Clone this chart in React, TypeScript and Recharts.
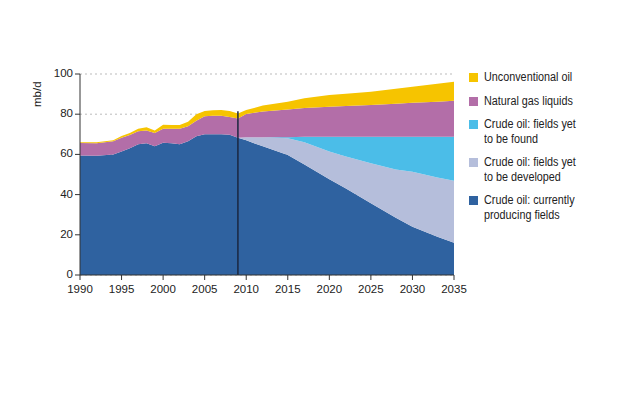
import { AreaChart, Area, XAxis, YAxis, CartesianGrid, ReferenceLine } from 'recharts'

const FONT = "'Liberation Sans', Arial, sans-serif"

const years = [1990, 1992, 1994, 1995, 1996, 1997, 1998, 1999, 2000, 2001, 2002, 2003, 2004, 2005, 2006, 2007, 2008, 2009, 2010, 2012, 2015, 2017, 2020, 2022, 2025, 2028, 2030, 2033, 2035]
const producing = [59.5, 59.3, 60, 61.5, 63, 65, 65.5, 64, 65.8, 65.5, 65, 66.5, 69, 70, 70, 70, 69.8, 68.3, 67, 64, 59.7, 55, 47.6, 43, 35.7, 28.5, 24, 19, 16.1]
const toBeDeveloped = [0, 0, 0, 0, 0, 0, 0, 0, 0, 0, 0, 0, 0, 0, 0, 0, 0, 0, 1.5, 4.5, 8.3, 11, 13.8, 16, 19.9, 24, 27.4, 29.5, 30.8]
const toBeFound = [0, 0, 0, 0, 0, 0, 0, 0, 0, 0, 0, 0, 0, 0, 0, 0, 0, 0, 0, 0, 0.5, 2.8, 7.4, 9.8, 13.2, 16.3, 17.4, 20.3, 21.9]
const ngl = [6.2, 6.3, 6.5, 6.8, 6.6, 6.5, 6.4, 6.7, 6.9, 7.2, 7.7, 7.5, 7.7, 9, 9.2, 9.2, 8.8, 9.5, 11.6, 12.8, 13.9, 14.3, 14.9, 15.3, 15.8, 16.4, 16.9, 17.4, 17.9]
const unconventional = [0.3, 0.4, 0.6, 0.8, 1.1, 1.3, 1.6, 1.2, 2, 1.9, 1.9, 2.3, 3.3, 2.6, 2.8, 2.9, 3, 2.5, 2, 3, 3.8, 4.8, 5.8, 6.1, 6.6, 7.4, 8, 8.9, 9.5]

const xTicks = [1990, 1995, 2000, 2005, 2010, 2015, 2020, 2025, 2030, 2035]
const yTicks = [0, 20, 40, 60, 80, 100]

const series = [
  { key: 'producing', color: '#2f62a0' },
  { key: 'toBeDeveloped', color: '#b5bedb' },
  { key: 'toBeFound', color: '#4bbde8' },
  { key: 'ngl', color: '#b36ea8' },
  { key: 'unconventional', color: '#f6c400' },
]

const legendLines: Record<string, string[]> = {
  unconventional: ['Unconventional oil'],
  ngl: ['Natural gas liquids'],
  toBeFound: ['Crude oil: fields yet', 'to be found'],
  toBeDeveloped: ['Crude oil: fields yet', 'to be developed'],
  producing: ['Crude oil: currently', 'producing fields'],
}

const data = years.map((year, i) => ({
  year,
  producing: producing[i],
  toBeDeveloped: toBeDeveloped[i],
  toBeFound: toBeFound[i],
  ngl: ngl[i],
  unconventional: unconventional[i],
}))

export default function App() {
  const tick = { fontSize: 11.5, fill: '#222', fontFamily: FONT }
  return (
    <div style={{ position: 'absolute', left: 0, top: 0, width: 624, height: 394, background: '#fff', fontFamily: FONT }}>
      <AreaChart width={624} height={394} data={data} margin={{ top: 74, right: 170, bottom: 89, left: 0 }}>
        <CartesianGrid horizontal vertical={false} stroke="#bbb" strokeDasharray="2 3" />
        <XAxis
          dataKey="year"
          type="number"
          domain={[1990, 2035]}
          ticks={xTicks}
          tick={{ ...tick, dy: 3 }}
          height={30}
          stroke="#333"
          tickSize={5}
          interval={0}
        />
        <YAxis
          type="number"
          domain={[0, 100]}
          ticks={yTicks}
          tick={{ ...tick, dy: -1 }}
          width={80}
          stroke="#333"
          tickSize={5}
          label={{ value: 'mb/d', angle: -90, position: 'insideTopLeft', dx: 28, dy: 28, style: { fontSize: 11.5, fill: '#222', fontFamily: FONT } }}
        />
        {series.map((s) => (
          <Area
            key={s.key}
            type="linear"
            dataKey={s.key}
            stackId="1"
            stroke="none"
            fill={s.color}
            fillOpacity={1}
            isAnimationActive={false}
          />
        ))}
        <ReferenceLine
          segment={[{ x: 2009, y: 0 }, { x: 2009, y: 81.5 }]}
          stroke="#1b2740"
          strokeWidth={1.5}
        />
      </AreaChart>
      <div style={{ position: 'absolute', left: 469, top: 70, fontSize: 12, color: '#222', lineHeight: '14.5px' }}>
        {[...series].reverse().map((s) => (
          <div key={s.key} style={{ display: 'flex', alignItems: 'flex-start', marginBottom: 9 }}>
            <div style={{ width: 9, height: 9, background: s.color, marginTop: 3, marginRight: 6, flexShrink: 0 }} />
            <div style={{ transform: 'scaleX(0.9)', transformOrigin: 'left top', whiteSpace: 'nowrap' }}>
              {legendLines[s.key].map((l) => (
                <div key={l} style={{ height: 14.5 }}>{l}</div>
              ))}
            </div>
          </div>
        ))}
      </div>
    </div>
  )
}
